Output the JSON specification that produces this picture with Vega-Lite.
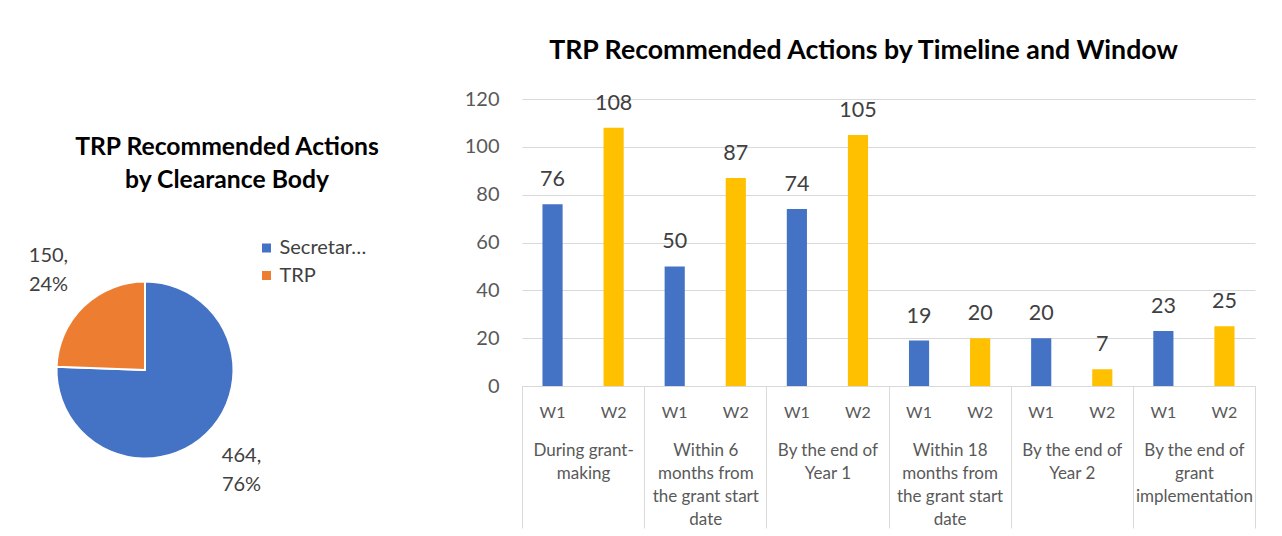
{
  "$schema": "https://vega.github.io/schema/vega-lite/v6.json",
  "background": "white",
  "padding": {"left": 28, "top": 38, "right": 0, "bottom": 0},
  "config": {"font": "Lato", "view": {"stroke": null}},
  "spacing": 84,
  "resolve": {"scale": {"color": "independent"}},
  "hconcat": [
    {
      "spacing": 35,
      "vconcat": [
        {
          "width": 1,
          "height": 1,
          "data": {"values": []},
          "mark": "point"
        },
        {
          "title": {
            "text": ["TRP Recommended Actions", "by Clearance Body"],
            "fontSize": 24.7,
            "fontWeight": "bold",
            "color": "#000000",
            "lineHeight": 32.3,
            "anchor": "middle",
            "frame": "group",
            "dx": 82,
            "offset": 44.7
          },
          "width": 200,
          "height": 266,
          "data": {
            "values": [
              {"body": "Secretariat", "count": 464, "label": "464,\n76%"},
              {"body": "TRP", "count": 150, "label": "150,\n24%"}
            ]
          },
          "encoding": {
            "theta": {"field": "count", "type": "quantitative", "stack": true},
            "order": {"field": "count", "type": "quantitative", "sort": "descending"}
          },
          "layer": [
            {
              "mark": {"type": "arc", "outerRadius": 88.5, "stroke": "#ffffff", "strokeWidth": 2},
              "encoding": {
                "color": {
                  "field": "body",
                  "type": "nominal",
                  "scale": {"domain": ["Secretariat", "TRP"], "range": ["#4472C4", "#ED7D31"]},
                  "legend": {
                    "title": null,
                    "orient": "none",
                    "legendX": 211.5,
                    "legendY": 139,
                    "padding": 0,
                    "symbolType": "square",
                    "symbolSize": 81,
                    "symbolStrokeWidth": 0,
                    "labelFontSize": 20,
                    "labelColor": "#404040",
                    "labelOffset": 3,
                    "rowPadding": 7.5,
                    "labelLimit": 90
                  }
                }
              }
            },
            {
              "mark": {"type": "text", "radius": 139, "dy": -14, "fontSize": 20, "color": "#404040", "lineBreak": "\n", "lineHeight": 29, "baseline": "middle", "align": "center"},
              "encoding": {"text": {"field": "label", "type": "nominal"}}
            }
          ]
        }
      ]
    },
    {
      "title": {
        "text": "TRP Recommended Actions by Timeline and Window",
        "fontSize": 26.7,
        "fontWeight": "bold",
        "color": "#000000",
        "anchor": "middle",
        "frame": "group",
        "dx": -25,
        "offset": 24
      },
      "width": 733,
      "height": 287,
      "data": {
        "values": [
          {"timeline": "During grant-making", "window": "W1", "count": 76},
          {"timeline": "During grant-making", "window": "W2", "count": 108},
          {"timeline": "Within 6 months from the grant start date", "window": "W1", "count": 50},
          {"timeline": "Within 6 months from the grant start date", "window": "W2", "count": 87},
          {"timeline": "By the end of Year 1", "window": "W1", "count": 74},
          {"timeline": "By the end of Year 1", "window": "W2", "count": 105},
          {"timeline": "Within 18 months from the grant start date", "window": "W1", "count": 19},
          {"timeline": "Within 18 months from the grant start date", "window": "W2", "count": 20},
          {"timeline": "By the end of Year 2", "window": "W1", "count": 20},
          {"timeline": "By the end of Year 2", "window": "W2", "count": 7},
          {"timeline": "By the end of grant implementation", "window": "W1", "count": 23},
          {"timeline": "By the end of grant implementation", "window": "W2", "count": 25}
        ]
      },
      "encoding": {
        "x": {
          "field": "timeline",
          "type": "nominal",
          "sort": null,
          "scale": {"paddingInner": 0, "paddingOuter": 0},
          "axis": {
            "title": null,
            "orient": "bottom",
            "labelAngle": 0,
            "tickBand": "extent",
            "tickSize": 142,
            "tickColor": "#d9d9d9",
            "tickWidth": 1,
            "domainColor": "#d9d9d9",
            "domainWidth": 1,
            "labelPadding": -86,
            "labelFontSize": 17,
            "labelLineHeight": 23,
            "labelColor": "#595959",
            "labelLimit": 200,
            "labelOverlap": false,
            "labelExpr": "datum.value == 'During grant-making' ? ['During grant-', 'making'] : datum.value == 'Within 6 months from the grant start date' ? ['Within 6', 'months from', 'the grant start', 'date'] : datum.value == 'By the end of Year 1' ? ['By the end of', 'Year 1'] : datum.value == 'Within 18 months from the grant start date' ? ['Within 18', 'months from', 'the grant start', 'date'] : datum.value == 'By the end of Year 2' ? ['By the end of', 'Year 2'] : datum.value == 'By the end of grant implementation' ? ['By the end of', 'grant', 'implementation'] : ''"
          }
        },
        "xOffset": {
          "field": "window",
          "type": "nominal",
          "scale": {"paddingInner": 0.67, "paddingOuter": 0.335}
        }
      },
      "layer": [
        {
          "mark": {"type": "bar"},
          "encoding": {
            "y": {
              "field": "count",
              "type": "quantitative",
              "scale": {"domain": [0, 120], "nice": false},
              "axis": {
                "title": null,
                "values": [0, 20, 40, 60, 80, 100, 120],
                "domain": false,
                "ticks": false,
                "tickSize": 0,
                "labelPadding": 23,
                "labelFontSize": 20,
                "labelColor": "#595959",
                "labelFlush": false,
                "grid": true,
                "gridColor": "#d9d9d9",
                "gridWidth": 1
              }
            },
            "color": {
              "field": "window",
              "type": "nominal",
              "scale": {"domain": ["W1", "W2"], "range": ["#4472C4", "#FFC000"]},
              "legend": null
            }
          }
        },
        {
          "mark": {"type": "text", "dy": -24, "fontSize": 21.5, "color": "#404040", "baseline": "middle"},
          "encoding": {
            "y": {"field": "count", "type": "quantitative"},
            "text": {"field": "count", "type": "quantitative"}
          }
        },
        {
          "mark": {"type": "text", "dy": 27, "fontSize": 16, "color": "#595959", "baseline": "middle"},
          "encoding": {
            "y": {"datum": 0, "type": "quantitative"},
            "text": {"field": "window", "type": "nominal"}
          }
        }
      ]
    }
  ]
}
